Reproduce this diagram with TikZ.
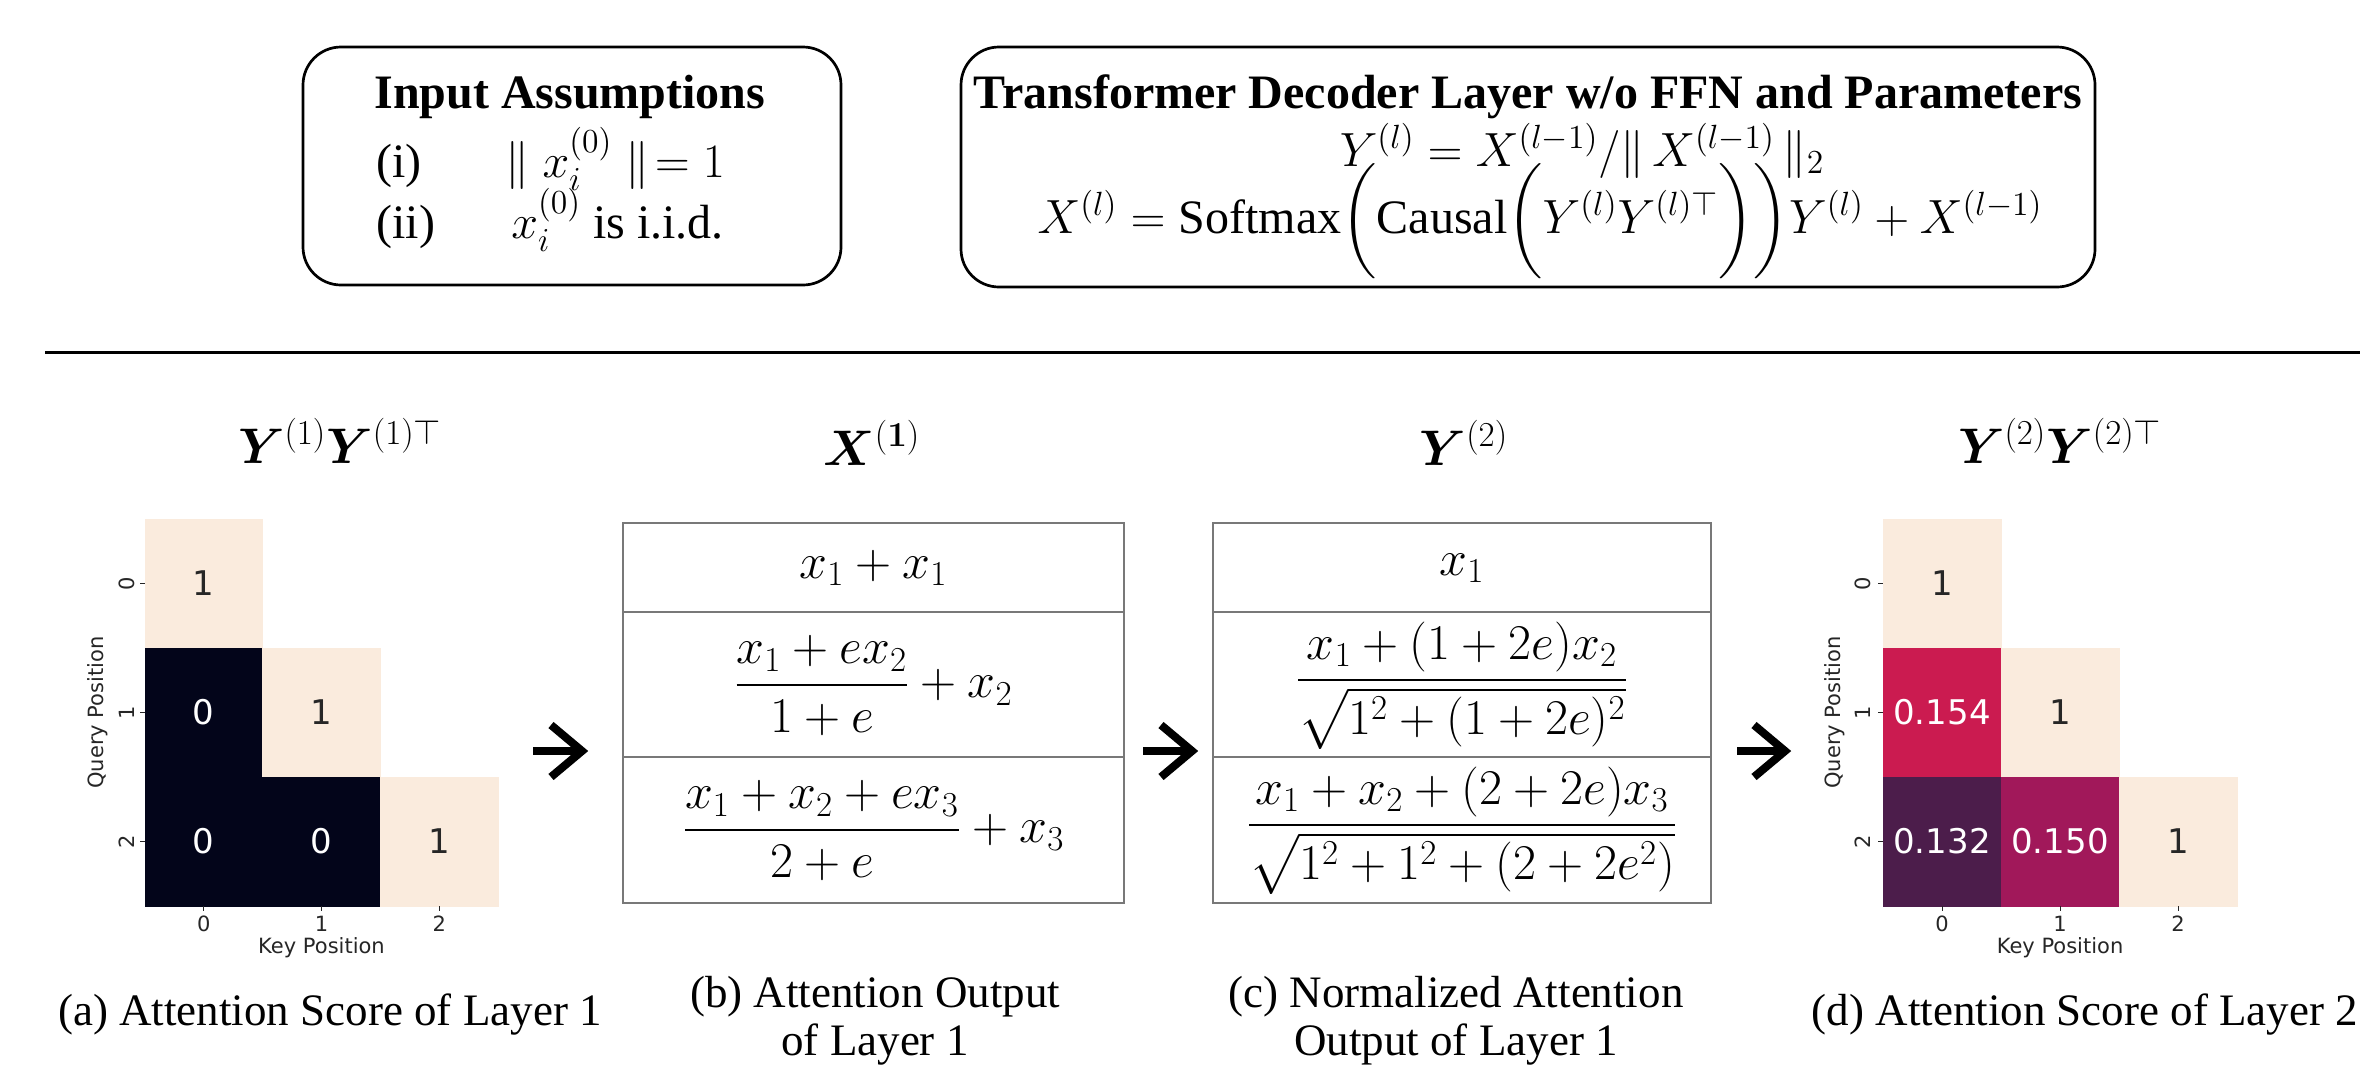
\RequirePackage{fix-cm}
\documentclass[tikz,border=0pt]{standalone}
\usepackage{amsmath,amssymb}
\usepackage{bm}
\usepackage{fontspec}
\setmainfont{Liberation Serif}
\newfontfamily\dvsans{DejaVu Sans}
\usetikzlibrary{calc}
\definecolor{cream}{RGB}{250,235,221}
\definecolor{rkzero}{RGB}{3,5,26}
\definecolor{rkA}{RGB}{203,27,80}
\definecolor{rkB}{RGB}{76,29,75}
\definecolor{rkC}{RGB}{161,24,90}
\definecolor{annot}{RGB}{38,38,38}
\definecolor{tblgray}{RGB}{120,120,120}
\begin{document}
\begin{tikzpicture}[x=0.5pt,y=-0.5pt,
  rbox/.style={draw, line width=1.35pt, rounded corners=19pt, inner sep=0pt},
  ttl/.style={inner sep=0pt, anchor=base, font=\fontsize{24}{28}\selectfont\bfseries},
  boxtext/.style={inner sep=0pt, font=\fontsize{24}{28}\selectfont},
  tframe/.style={draw=tblgray, line width=1pt, inner sep=0pt, minimum height=190pt},
  trow/.style={inner sep=0pt, font=\fontsize{25}{30}\selectfont},
  tblline/.style={draw=tblgray, line width=1pt},
  hmcell/.style={inner sep=0pt, minimum width=58.85pt, minimum height=64.5pt, line width=0.3pt},
  ccell/.style={hmcell, fill=cream, draw=cream},
  dcell/.style={hmcell, fill=#1, draw=#1},
  ctxt/.style={inner sep=0pt, font=\dvsans\fontsize{17}{20}\selectfont, text=annot},
  dtxt/.style={inner sep=0pt, font=\dvsans\fontsize{17}{20}\selectfont, text=white},
  tlbl/.style={inner sep=0pt, font=\dvsans\fontsize{10.5}{12}\selectfont, text=annot},
  tickmark/.style={line width=0.5pt, draw=annot},
  hmttl/.style={inner sep=0pt, anchor=base, font=\fontsize{25}{30}\selectfont},
  capt/.style={inner sep=0pt, anchor=base, font=\fontsize{22.5}{27}\selectfont},
  arrowshaft/.style={line width=4pt},
  arrowhead/.style={line width=4pt, miter limit=10}
]
\useasboundingbox (0,0) rectangle (2360,1067);

% ---------- top boxes ----------
\node[rbox, minimum width=269pt, minimum height=119pt] (boxA) at (572,166) {};
\node[ttl] (boxAt) at (570,108) {Input Assumptions};
\node[boxtext, anchor=base west] (iA) at (376,177) {(i)};
\node[boxtext, anchor=base west] (iB) at (505,177) {$\|\;x_i^{(0)}\;\|\!= 1$};
\node[boxtext, anchor=base west] (iiA) at (376,238) {(ii)};
\node[boxtext, anchor=base west] (iiB) at (511,238) {$x_i^{(0)}$ is i.i.d.};

\node[rbox, minimum width=567pt, minimum height=120pt] (boxB) at (1528,167) {};
\node[ttl] (boxBt) at (1528,108) {Transformer Decoder Layer w/o FFN and Parameters};
\node[boxtext, anchor=base] (eqA) at (1582,166) {$Y^{(l)} = X^{(l-1)}/\|\,X^{(l-1)}\,\|_2$};
\node[boxtext, anchor=base] (eqB) at (1540,233) {$X^{(l)} = \mathrm{Softmax}\biggl(\mathrm{Causal}\biggl(Y^{(l)}Y^{(l)\top}\biggr)\biggr)Y^{(l)} + X^{(l-1)}$};

% ---------- rule ----------
\coordinate (rl) at (45,352);
\coordinate (rr) at (2360,352);
\draw[line width=1.5pt] (rl) -- (rr);

% ---------- titles ----------
\node[hmttl] (ttlA) at (340,463) {$\bm{Y}^{(1)}\bm{Y}^{(1)\top}$};
\node[hmttl] (ttlB) at (872,465) {$\bm{X}^{(\bm{1})}$};
\node[hmttl] (ttlC) at (1464,465) {$\bm{Y}^{(2)}$};
\node[hmttl] (ttlD) at (2060,463) {$\bm{Y}^{(2)}\bm{Y}^{(2)\top}$};

% ---------- heatmap 1 ----------
\node[ccell] (ha00) at (203.8,583.5) {};
\node[dcell=rkzero] (ha10) at (203.8,712.5) {};
\node[ccell] (ha11) at (321.5,712.5) {};
\node[dcell=rkzero] (ha20) at (203.8,841.5) {};
\node[dcell=rkzero] (ha21) at (321.5,841.5) {};
\node[ccell] (ha22) at (439.2,841.5) {};
\node[ctxt] (ha00t) at (ha00.center) {1};
\node[dtxt] (ha10t) at (ha10.center) {0};
\node[ctxt] (ha11t) at (ha11.center) {1};
\node[dtxt] (ha20t) at (ha20.center) {0};
\node[dtxt] (ha21t) at (ha21.center) {0};
\node[ctxt] (ha22t) at (ha22.center) {1};
\draw[tickmark] (ha00.west) -- ++(-5,0);
\draw[tickmark] (ha10.west) -- ++(-5,0);
\draw[tickmark] (ha20.west) -- ++(-5,0);
\draw[tickmark] (ha20.south) -- ++(0,5);
\draw[tickmark] (ha21.south) -- ++(0,5);
\draw[tickmark] (ha22.south) -- ++(0,5);
\node[tlbl, rotate=90] (hay0) at (127,583.5) {0};
\node[tlbl, rotate=90] (hay1) at (127,712.5) {1};
\node[tlbl, rotate=90] (hay2) at (127,841.5) {2};
\node[tlbl] (hax0) at (203.8,924) {0};
\node[tlbl] (hax1) at (321.5,924) {1};
\node[tlbl] (hax2) at (439.2,924) {2};
\node[tlbl] (haxl) at (321.5,948) {Key Position};
\node[tlbl, rotate=90] (hayl) at (98,712.5) {Query Position};

% ---------- table 1 ----------
\node[tframe, minimum width=250.5pt] (tblA) at (873.5,713) {};
\draw[tblline] ($(tblA.north west)+(0,90)$) -- ($(tblA.north east)+(0,90)$);
\draw[tblline] ($(tblA.north west)+(0,235)$) -- ($(tblA.north east)+(0,235)$);
\node[trow] (ta1) at (873.5,568) {$x_1 + x_1$};
\node[trow] (ta2) at (873.5,685.5) {$\displaystyle\frac{x_1+ex_2}{1+e}+x_2$};
\node[trow] (ta3) at (873.5,830.5) {$\displaystyle\frac{x_1+x_2+ex_3}{2+e}+x_3$};

% ---------- table 2 ----------
\node[tframe, minimum width=249pt] (tblB) at (1462,713) {};
\draw[tblline] ($(tblB.north west)+(0,90)$) -- ($(tblB.north east)+(0,90)$);
\draw[tblline] ($(tblB.north west)+(0,235)$) -- ($(tblB.north east)+(0,235)$);
\node[trow] (tb1) at (1462,568) {$x_1$};
\node[trow] (tb2) at (1462,685.5) {$\displaystyle\frac{x_1+(1+2e)x_2}{\sqrt{1^2+(1+2e)^2}}$};
\node[trow] (tb3) at (1462,830.5) {$\displaystyle\frac{x_1+x_2+(2+2e)x_3}{\sqrt{1^2+1^2+(2+2e^2)}}$};

% ---------- heatmap 2 ----------
\node[ccell] (hb00) at (1942,583.5) {};
\node[dcell=rkA] (hb10) at (1942,712.5) {};
\node[ccell] (hb11) at (2060,712.5) {};
\node[dcell=rkB] (hb20) at (1942,841.5) {};
\node[dcell=rkC] (hb21) at (2060,841.5) {};
\node[ccell] (hb22) at (2178,841.5) {};
\node[ctxt] (hb00t) at (hb00.center) {1};
\node[dtxt] (hb10t) at (hb10.center) {0.154};
\node[ctxt] (hb11t) at (hb11.center) {1};
\node[dtxt] (hb20t) at (hb20.center) {0.132};
\node[dtxt] (hb21t) at (hb21.center) {0.150};
\node[ctxt] (hb22t) at (hb22.center) {1};
\draw[tickmark] (hb00.west) -- ++(-5,0);
\draw[tickmark] (hb10.west) -- ++(-5,0);
\draw[tickmark] (hb20.west) -- ++(-5,0);
\draw[tickmark] (hb20.south) -- ++(0,5);
\draw[tickmark] (hb21.south) -- ++(0,5);
\draw[tickmark] (hb22.south) -- ++(0,5);
\node[tlbl, rotate=90] (hby0) at (1863,583.5) {0};
\node[tlbl, rotate=90] (hby1) at (1863,712.5) {1};
\node[tlbl, rotate=90] (hby2) at (1863,841.5) {2};
\node[tlbl] (hbx0) at (1942,924) {0};
\node[tlbl] (hbx1) at (2060,924) {1};
\node[tlbl] (hbx2) at (2178,924) {2};
\node[tlbl] (hbxl) at (2060,948) {Key Position};
\node[tlbl, rotate=90] (hbyl) at (1835,712.5) {Query Position};

% ---------- arrows ----------
\coordinate (ar1s) at (533,751); \coordinate (ar1e) at (582,751);
\coordinate (ar2s) at (1143,751); \coordinate (ar2e) at (1192,751);
\coordinate (ar3s) at (1737,751); \coordinate (ar3e) at (1785,751);
\foreach \s/\e in {ar1s/ar1e, ar2s/ar2e, ar3s/ar3e}{
  \draw[arrowshaft] (\s) -- ($(\e)+(-4,0)$);
  \draw[arrowhead] ($(\e)+(-31,-26)$) -- (\e) -- ($(\e)+(-31,26)$);
}

% ---------- captions ----------
\node[capt] (capA) at (330,1025) {(a) Attention Score of Layer 1};
\node[capt] (capB1) at (875,1007) {(b) Attention Output};
\node[capt] (capB2) at (875,1055) {of Layer 1};
\node[capt] (capC1) at (1456,1007) {(c) Normalized Attention};
\node[capt] (capC2) at (1456,1055) {Output of Layer 1};
\node[capt] (capD) at (2085,1025) {(d) Attention Score of Layer 2};
\end{tikzpicture}
\end{document}
